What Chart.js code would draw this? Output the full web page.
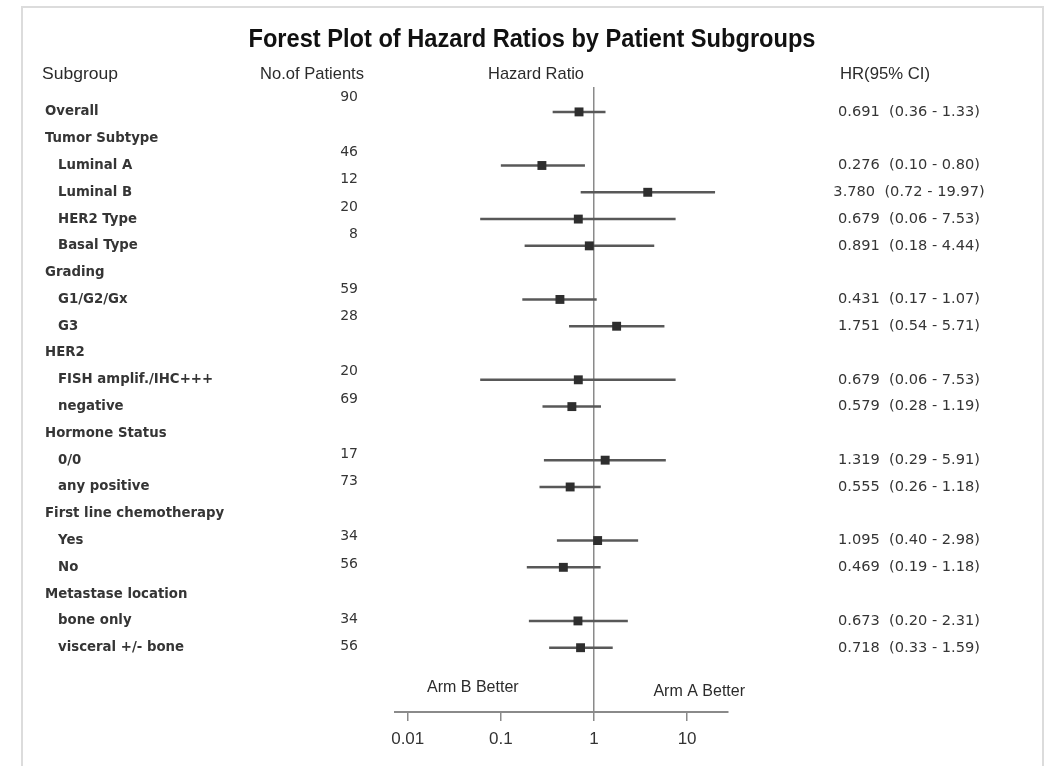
<!DOCTYPE html>
<html>
<head>
<meta charset="utf-8">
<title>Forest Plot of Hazard Ratios by Patient Subgroups</title>
<script src="https://cdn.jsdelivr.net/npm/chart.js@4.4.1/dist/chart.umd.min.js"></script>
<style>
  html, body { margin: 0; padding: 0; background: #fff; }
  #wrap { width: 1046px; height: 766px; }
</style>
</head>
<body>
<div id="wrap"><canvas id="forest" width="1046" height="766"></canvas></div>
<script>
// rows, top to bottom
const rowLabels = [
  'Overall', 'Tumor Subtype', 'Luminal A', 'Luminal B', 'HER2 Type', 'Basal Type',
  'Grading', 'G1/G2/Gx', 'G3', 'HER2', 'FISH amplif./IHC+++', 'negative',
  'Hormone Status', '0/0', 'any positive', 'First line chemotherapy', 'Yes', 'No',
  'Metastase location', 'bone only', 'visceral +/- bone'
];
const patients = [90, null, 46, 12, 20, 8, null, 59, 28, null, 20, 69, null, 17, 73, null, 34, 56, null, 34, 56];
const hazardRatio = [0.691, null, 0.276, 3.780, 0.679, 0.891, null, 0.431, 1.751, null, 0.679, 0.579,
  null, 1.319, 0.555, null, 1.095, 0.469, null, 0.673, 0.718];
const ciLow = [0.36, null, 0.10, 0.72, 0.06, 0.18, null, 0.17, 0.54, null, 0.06, 0.28,
  null, 0.29, 0.26, null, 0.40, 0.19, null, 0.20, 0.33];
const ciHigh = [1.33, null, 0.80, 19.97, 7.53, 4.44, null, 1.07, 5.71, null, 7.53, 1.19,
  null, 5.91, 1.18, null, 2.98, 1.18, null, 2.31, 1.59];
const xTicks = [0.01, 0.1, 1, 10];

const lineGray = '#585858';
const axisGray = '#8a8a8a';
const textColor = '#2b2b2b';

const fmt2 = v => v.toFixed(2);

// CI whiskers, one small dataset per row
const ciSets = [];
hazardRatio.forEach((hr, i) => {
  if (hr === null) return;
  ciSets.push({
    data: [{ x: ciLow[i], y: i }, { x: ciHigh[i], y: i }],
    showLine: true,
    borderColor: lineGray,
    borderWidth: 2.5,
    pointRadius: 0,
    order: 2
  });
});

const pointSet = {
  data: hazardRatio.map((hr, i) => hr === null ? null : { x: hr, y: i }).filter(p => p),
  pointStyle: 'rect',
  pointRadius: 6.3,
  backgroundColor: '#2e2e2e',
  borderWidth: 0,
  order: 1
};

// text squeezed to a target width (the source uses a narrow face)
function fitText(ctx, text, cx, cy, width, font) {
  ctx.save();
  ctx.font = font;
  const w = ctx.measureText(text).width;
  ctx.translate(cx, cy);
  ctx.scale(width / w, 1);
  ctx.textAlign = 'center';
  ctx.textBaseline = 'middle';
  ctx.fillText(text, 0, 0);
  ctx.restore();
}

const tablePlugin = {
  id: 'forestTable',
  afterDraw(chart) {
    const ctx = chart.ctx;
    const y = chart.scales.y;
    const x = chart.scales.x;
    ctx.save();

    // light frame around the figure
    ctx.strokeStyle = '#dcdcdc';
    ctx.lineWidth = 2;
    ctx.beginPath();
    ctx.moveTo(22, 780);
    ctx.lineTo(22, 7);
    ctx.lineTo(1043, 7);
    ctx.lineTo(1043, 780);
    ctx.stroke();

    ctx.fillStyle = '#111';
    fitText(ctx, 'Forest Plot of Hazard Ratios by Patient Subgroups', 532, 40, 567, 'bold 25px "Liberation Sans", Arial, sans-serif');

    ctx.fillStyle = textColor;
    const hdrFont = '17px "Liberation Sans", Arial, sans-serif';
    fitText(ctx, 'Subgroup', 80, 74, 76, hdrFont);
    fitText(ctx, 'No.of Patients', 312, 74, 104, hdrFont);
    fitText(ctx, 'Hazard Ratio', 536, 74, 96, hdrFont);
    fitText(ctx, 'HR(95% CI)', 885, 74, 90, hdrFont);

    rowLabels.forEach((label, i) => {
      const py = y.getPixelForValue(i);
      const isSub = hazardRatio[i] !== null && i > 0;
      ctx.font = 'bold 13.3px "DejaVu Sans", Verdana, sans-serif';
      ctx.fillStyle = '#353535';
      ctx.textAlign = 'left';
      ctx.textBaseline = 'middle';
      ctx.fillText(label, isSub ? 58 : 45, py);

      if (patients[i] !== null) {
        ctx.font = '14px "DejaVu Sans", Verdana, sans-serif';
        ctx.textAlign = 'right';
        ctx.fillText(String(patients[i]), 358, py - (15 - 0.7 * i));
      }
      if (hazardRatio[i] !== null) {
        ctx.font = '14.6px "DejaVu Sans", Verdana, sans-serif';
        ctx.textAlign = 'center';
        const txt = hazardRatio[i].toFixed(3) + '  (' + fmt2(ciLow[i]) + ' - ' + fmt2(ciHigh[i]) + ')';
        ctx.fillText(txt, 909, py);
      }
    });

    // direction labels under the rows
    ctx.font = '16px "Liberation Sans", Arial, sans-serif';
    ctx.fillStyle = textColor;
    ctx.textAlign = 'center';
    ctx.textBaseline = 'middle';
    ctx.fillText('Arm B Better', x.getPixelForValue(0.05), 688);
    ctx.fillText('Arm A Better', x.getPixelForValue(13.5), 692);

    ctx.restore();
  }
};

new Chart(document.getElementById('forest'), {
  type: 'scatter',
  data: { datasets: [...ciSets, pointSet] },
  options: {
    responsive: false,
    animation: false,
    events: [],
    layout: { padding: { left: 395, right: 318, top: 87, bottom: 0 } },
    plugins: {
      legend: { display: false },
      tooltip: { enabled: false }
    },
    scales: {
      x: {
        type: 'logarithmic',
        position: 'bottom',
        min: 0.0073,
        max: 27.5,
        bounds: 'data',
        afterBuildTicks: s => { s.ticks = xTicks.map(v => ({ value: v })); },
        afterFit: s => { s.height = 54; },
        ticks: {
          autoSkip: false,
          maxRotation: 0,
          padding: 8,
          color: '#333',
          font: { family: '"Liberation Sans", Arial, sans-serif', size: 17 },
          callback: v => String(v)
        },
        grid: {
          drawOnChartArea: true,
          color: c => (c.tick && c.tick.value === 1) ? axisGray : 'rgba(0,0,0,0)',
          tickColor: axisGray,
          tickLength: 9,
          lineWidth: 1.5
        },
        border: { display: true, color: axisGray, width: 2 }
      },
      y: {
        type: 'linear',
        reverse: true,
        min: -0.93,
        max: 22.4,
        display: false
      }
    }
  },
  plugins: [tablePlugin]
});
</script>
</body>
</html>
